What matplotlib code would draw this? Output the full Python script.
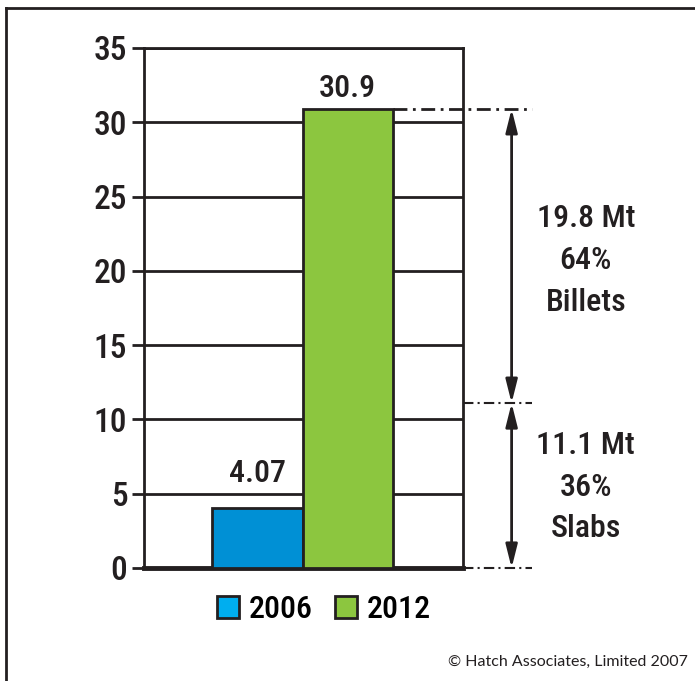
import matplotlib.pyplot as plt
from matplotlib import font_manager
from matplotlib.lines import Line2D
from matplotlib.patches import Patch

# data
years = ['2006', '2012']
capacity = [4.07, 30.9]
billets = 19.8
slabs = 11.1
billet_text = '19.8 Mt\n64%\nBillets'
slab_text = '11.1 Mt\n36%\nSlabs'
yticks = [0, 5, 10, 15, 20, 25, 30, 35]

bar_colors = ['#0090d5', '#8cc63f']
legend_colors = ['#00aeef', '#8cc63f']
ink = '#231f20'

# pick a narrow face if one is installed
names = {f.name for f in font_manager.fontManager.ttflist}
narrow = [n for n in ['Liberation Sans Narrow', 'Roboto Condensed', 'Open Sans Condensed',
                      'Noto Sans Condensed', 'DejaVu Sans Condensed'] if n in names]
condensed = [f.name for f in font_manager.fontManager.ttflist
             if str(f.stretch) in ('condensed', 'semi-condensed', 'extra-condensed', '75', '87')]
if narrow:
    plt.rcParams['font.family'] = [narrow[0], 'DejaVu Sans']
elif condensed:
    plt.rcParams['font.family'] = [condensed[0], 'DejaVu Sans']
    plt.rcParams['font.stretch'] = 'condensed'
else:
    plt.rcParams['font.family'] = ['Roboto', 'DejaVu Sans']
plt.rcParams['font.weight'] = 'medium'

fig = plt.figure(figsize=(6.95, 6.81), dpi=100)
ax = fig.add_axes([144 / 695, 113 / 681, 319 / 695, 520 / 681])

x = [0, 1]
ax.bar(x, capacity, width=1.0, color=bar_colors, edgecolor=ink, linewidth=2, zorder=3)

ax.set_xlim(-1.251, 2.273)
ax.set_ylim(0, 35)
ax.set_yticks(yticks)
ax.set_xticks([])
ax.tick_params(axis='y', length=9, width=2, labelsize=24, pad=3, colors=ink)
ax.grid(axis='y', color=ink, linewidth=2, zorder=1)
for side in ['left', 'right', 'top']:
    ax.spines[side].set_linewidth(2)
    ax.spines[side].set_color(ink)
ax.spines['bottom'].set_linewidth(3.5)
ax.spines['bottom'].set_color(ink)

# value labels (the short bar's label sits above the 5 gridline)
for xi, v, off in zip(x, capacity, [14, 4]):
    ax.annotate(f'{v:g}', (xi, v), xytext=(0, off), textcoords='offset points',
                ha='center', va='bottom', fontsize=23, color=ink)

# dimension lines on the right
x_arrow = 2.81
x_end = 3.03
ax.plot([1.5, x_end], [capacity[1], capacity[1]], color=ink, lw=2,
        linestyle=(0, (5, 2, 1, 2)), clip_on=False)
ax.plot([2.273, x_end], [slabs, slabs], color=ink, lw=1.5,
        linestyle=(0, (5, 2, 1, 2)), clip_on=False)
ax.plot([2.273, x_end], [0, 0], color=ink, lw=1.5,
        linestyle=(0, (5, 2, 1, 2)), clip_on=False)
for y0, y1 in [(slabs, capacity[1]), (0, slabs)]:
    ax.annotate('', xy=(x_arrow, y1), xytext=(x_arrow, y0),
                arrowprops=dict(arrowstyle='<|-|>,head_length=1.4,head_width=0.35',
                                color=ink, lw=2, shrinkA=0, shrinkB=0),
                annotation_clip=False)

ax.text(3.63, 20.7, billet_text, ha='center', va='center', fontsize=23,
        linespacing=1.56, color=ink, clip_on=False)
ax.text(3.63, 5.45, slab_text, ha='center', va='center', fontsize=23,
        linespacing=1.56, color=ink, clip_on=False)

# legend
handles = [Patch(facecolor=c, edgecolor=ink, linewidth=2) for c in legend_colors]
fig.legend(handles, years, loc='center', bbox_to_anchor=(324 / 695, 1 - 610 / 681),
           ncol=2, frameon=False, fontsize=23, handlelength=0.68, handleheight=0.68,
           handletextpad=0.3, columnspacing=0.7)

# copyright
fig.text(688 / 695, 1 - 662 / 681, '\u00a9 Hatch Associates, Limited 2007',
         ha='right', va='center', fontsize=11.5, family=['Lato', 'DejaVu Sans'],
         stretch='normal', weight='normal', color=ink)

# outer frame (top and left edges)
fig.add_artist(Line2D([6 / 695, 1], [1 - 8 / 681, 1 - 8 / 681], color=ink, lw=2))
fig.add_artist(Line2D([6 / 695, 6 / 695], [0, 1 - 8 / 681], color=ink, lw=2))

fig.savefig('out.png', dpi=100)
